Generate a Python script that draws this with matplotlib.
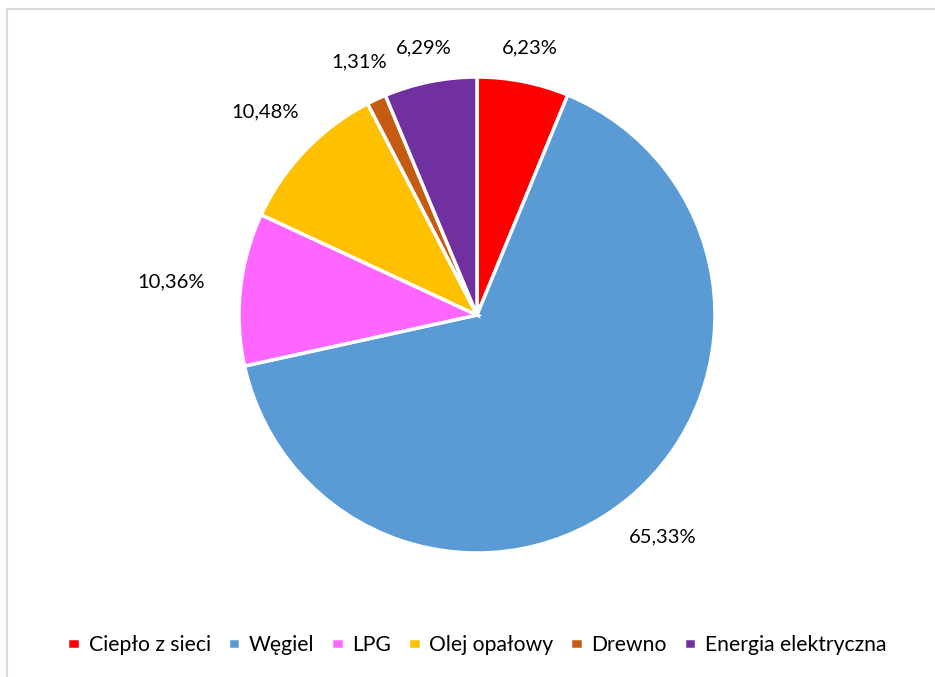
import numpy as np
import matplotlib
matplotlib.use("Agg")
import matplotlib.pyplot as plt
from matplotlib.patches import Rectangle

categories = ["Ciepło z sieci", "Węgiel", "LPG", "Olej opałowy", "Drewno", "Energia elektryczna"]
shares = [6.23, 65.33, 10.36, 10.48, 1.31, 6.29]
colors = ["#FF0000", "#5B9BD5", "#FF66FF", "#FFC000", "#C55A11", "#7030A0"]

plt.rcParams['font.family'] = ['Lato', 'DejaVu Sans']

W, H = 935, 677
fig = plt.figure(figsize=(W / 100, H / 100), dpi=100)

# pie centre and radius in pixels
cx, cy, r = 477, 315, 238
ax = fig.add_axes([(cx - r) / W, (H - cy - r) / H, 2 * r / W, 2 * r / H])

wedges, _ = ax.pie(shares, colors=colors, startangle=90, counterclock=False,
                   radius=1, wedgeprops=dict(edgecolor="white", linewidth=2.5))
ax.set_xlim(-1, 1)
ax.set_ylim(-1, 1)

# data labels outside the slices, pushed out more sideways than up/down
for w, v in zip(wedges, shares):
    ang = np.deg2rad((w.theta1 + w.theta2) / 2)
    c, s = np.cos(ang), np.sin(ang)
    off = np.hypot(70 * c, 32 * s)
    ax.annotate(f"{v:.2f}%".replace(".", ","), xy=(c, s),
                xytext=(off * c, off * s), textcoords="offset pixels",
                ha="center", va="center", fontsize=14.5, color="#000000",
                annotation_clip=False)

fig.legend(wedges, categories, loc="center", bbox_to_anchor=(0.51, 1 - 645 / H),
           ncol=6, frameon=False, fontsize=15.2, handlelength=0.6, handleheight=0.45,
           handletextpad=0.4, columnspacing=0.8)

# chart area border
fig.add_artist(Rectangle((6.5 / W, -0.1), 2, (H - 8.5) / H + 0.1, transform=fig.transFigure,
                         fill=False, edgecolor="#d9d9d9", linewidth=1.5))

fig.savefig("out.png", dpi=100)
